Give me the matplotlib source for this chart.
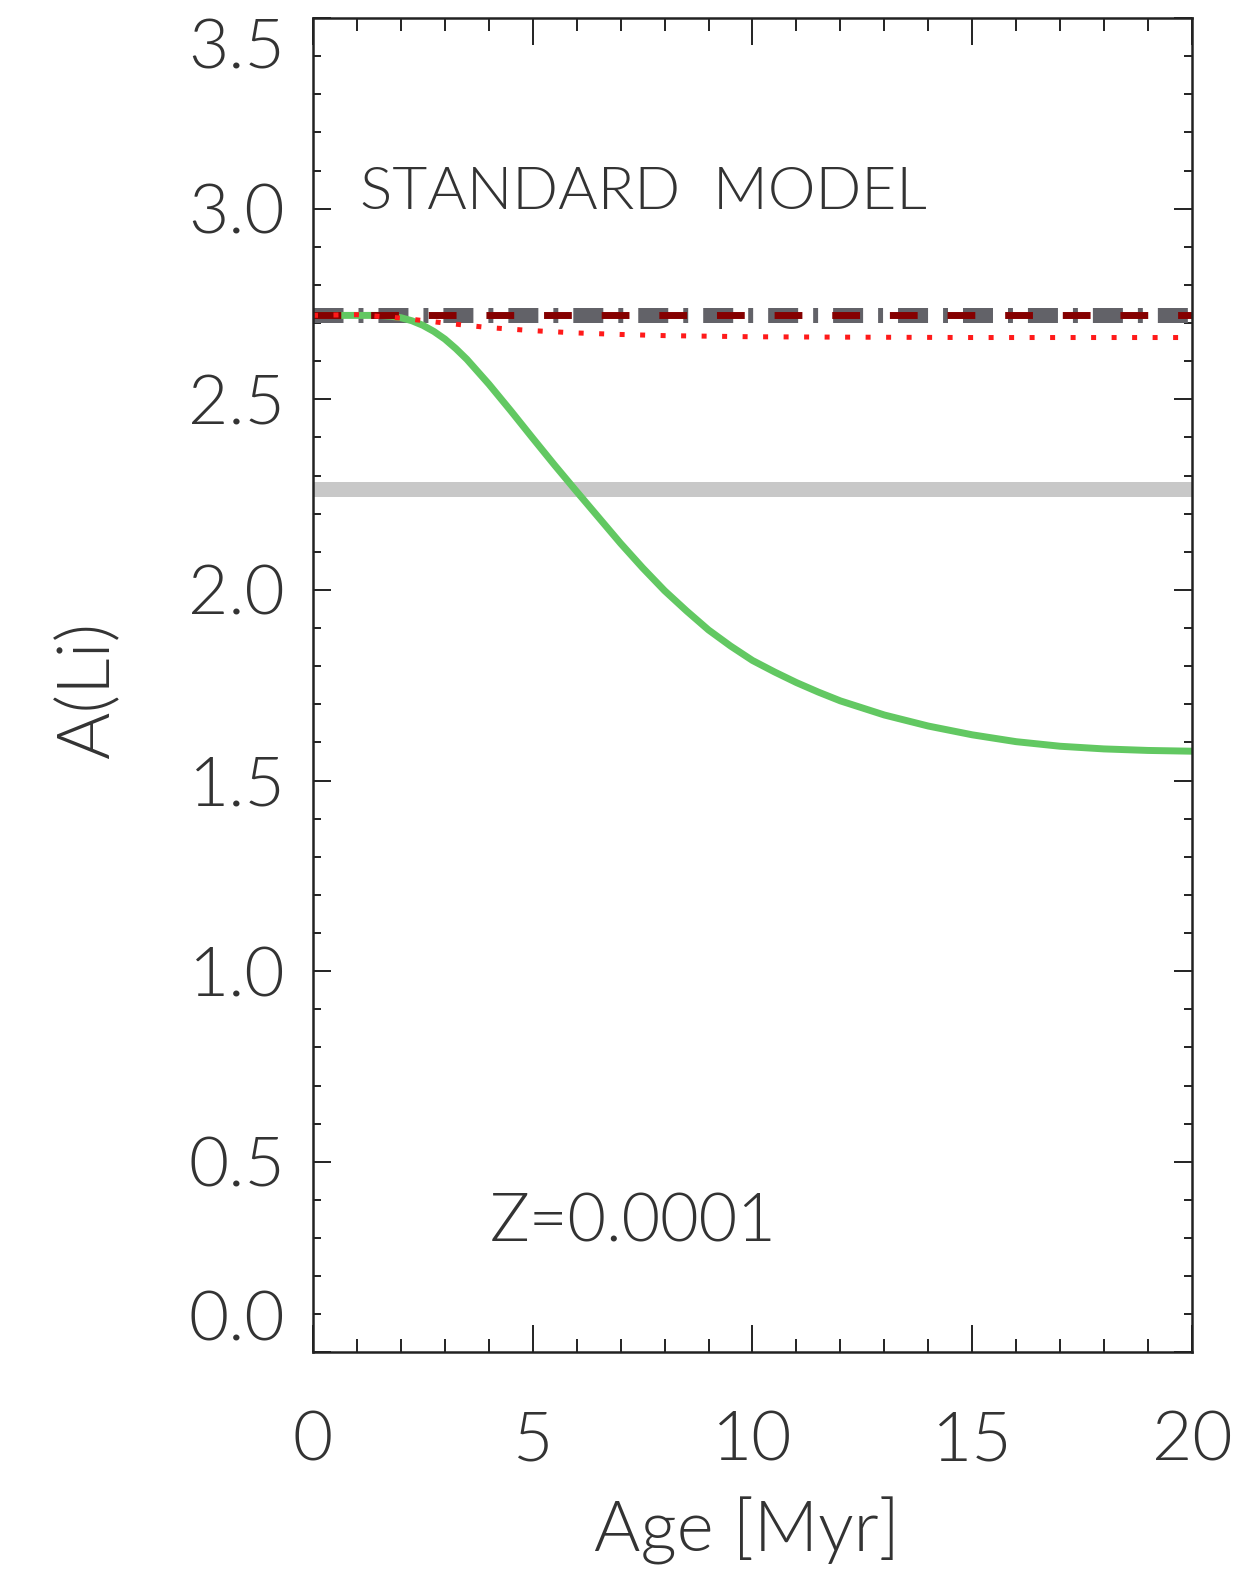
import numpy as np
import matplotlib
matplotlib.use("Agg")
import matplotlib.pyplot as plt

plt.rcParams['font.family'] = ['Lato', 'DejaVu Sans']

# Standard model, Z=0.0001 -- lithium abundance vs age
age_green = [0, 1, 1.5, 1.75, 2, 2.25, 2.5, 2.75, 3, 3.25, 3.5, 4, 4.5, 5,
             5.5, 6, 6.5, 7, 7.5, 8, 8.5, 9, 9.5, 10, 10.5, 11, 11.5, 12,
             13, 14, 15, 16, 17, 18, 19, 20]
li_green = [2.72, 2.72, 2.72, 2.718, 2.714, 2.706, 2.694, 2.678, 2.658, 2.633,
            2.605, 2.54, 2.47, 2.398, 2.327, 2.258, 2.19, 2.122, 2.058, 1.998,
            1.945, 1.895, 1.853, 1.815, 1.785, 1.757, 1.732, 1.709, 1.672,
            1.643, 1.620, 1.602, 1.590, 1.583, 1.579, 1.577]

age_dotted = [0, 1, 2, 3, 4, 5, 6, 7, 8, 10, 12, 15, 20]
li_dotted = [2.72, 2.722, 2.713, 2.70, 2.688, 2.68, 2.674, 2.67, 2.667,
             2.664, 2.663, 2.662, 2.662]

age_flat = [0, 20]
li_dashdot = [2.72, 2.72]
li_dashed = [2.72, 2.72]
li_observed = [2.265, 2.265]

xticks = [0, 5, 10, 15, 20]
yticks = [0.0, 0.5, 1.0, 1.5, 2.0, 2.5, 3.0, 3.5]

TXT = '#333333'
WT = 300


def main():
    fig = plt.figure(figsize=(12.41, 15.80), dpi=100)
    ax = fig.add_axes([0.2522, 0.1440, 0.7083, 0.8446])

    ax.plot(age_flat, li_observed, '-', color='#c8c8c8', lw=10.8,
            solid_capstyle='butt')
    ax.plot(age_flat, li_dashdot, color='#626268', lw=10.8,
            linestyle=(0, (2.0, 1.0, 0.33, 1.0)), dash_capstyle='butt')
    ax.plot(age_green, li_green, '-', color='#62c862', lw=5)
    ax.plot(age_flat, li_dashed, color='#850000', lw=5,
            linestyle=(0, (4.0, 4.3)), dash_capstyle='butt')
    ax.plot(age_dotted, li_dotted, color='#ff1a1a', lw=3.6,
            linestyle=(0, (1.0, 3.1)), dash_capstyle='butt')

    ax.set_xlim(0, 20)
    ax.set_ylim(0, 3.5)
    ax.set_xticks(xticks)
    ax.set_xticklabels([str(t) for t in xticks])
    ax.set_yticks(yticks)
    ax.set_yticklabels([f"{t:.1f}" for t in yticks])
    ax.set_xticks(np.arange(0, 21, 1), minor=True)
    ax.set_yticks(np.arange(0, 3.51, 0.1), minor=True)

    ax.tick_params(axis='both', which='both', direction='in', top=True,
                   right=True, color='#222222', width=1.4, labelcolor=TXT)
    ax.tick_params(axis='x', which='major', length=19.4, labelsize=50, pad=42)
    ax.tick_params(axis='x', which='minor', length=9.4)
    ax.tick_params(axis='y', which='major', length=13, labelsize=50, pad=20)
    ax.tick_params(axis='y', which='minor', length=5.8)
    for lab in ax.get_xticklabels() + ax.get_yticklabels():
        lab.set_fontweight(WT)

    ylabs = ax.get_yticklabels()
    ylabs[0].set_va('bottom')
    ylabs[-1].set_va('top')

    for sp in ax.spines.values():
        sp.set_linewidth(1.8)
        sp.set_color('#222222')

    ax.set_xlabel("Age [Myr]", fontsize=51, color=TXT, fontweight=WT)
    ax.set_ylabel("A(Li)", fontsize=52, color=TXT, fontweight=WT)
    ax.xaxis.set_label_coords(0.494, -0.1338)
    ax.yaxis.set_label_coords(-0.2548, 0.4965)
    ax.xaxis.label.set_va('center')
    ax.yaxis.label.set_va('center')

    ax.text(1.07, 3.043, "STANDARD  MODEL", fontsize=43.5, color=TXT,
            fontweight=WT, ha='left', va='center')
    ax.text(4.03, 0.337, "Z=0.0001", fontsize=48, color=TXT,
            fontweight=WT, ha='left', va='center')

    fig.savefig('out.png', dpi=100)
    plt.close(fig)


if __name__ == "__main__":
    main()
